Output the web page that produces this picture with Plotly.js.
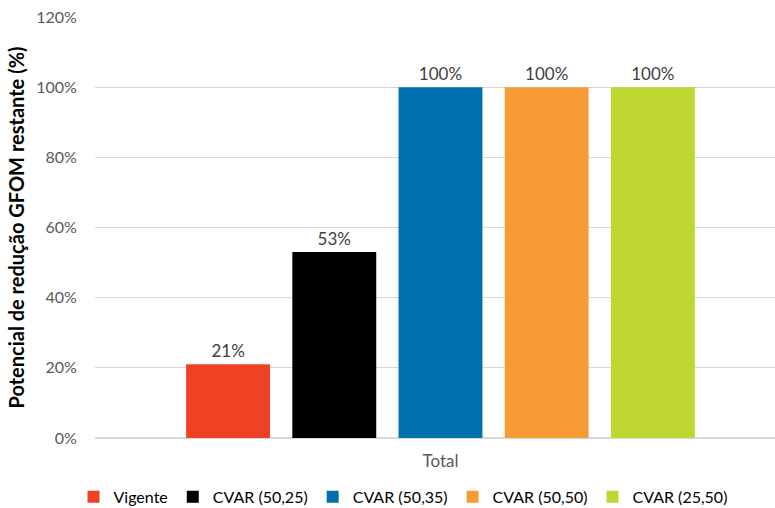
<!DOCTYPE html>
<html>
<head>
<meta charset="utf-8">
<script src="https://cdn.plot.ly/plotly-3.0.1.min.js"></script>
<style>html,body{margin:0;padding:0;background:#fff;}#chart{width:775px;height:508px;}</style>
</head>
<body>
<div id="chart"></div>
<script>
const categories = ["Total"];
const seriesNames = ["Vigente", "CVAR (50,25)", "CVAR (50,35)", "CVAR (50,50)", "CVAR (25,50)"];
const seriesValues = [[0.21], [0.53], [1.00], [1.00], [1.00]];
const seriesColors = ["#EF4123", "#000000", "#0070AF", "#F79B34", "#BFD730"];
const yTickVals = [0, 0.2, 0.4, 0.6, 0.8, 1.0, 1.2];

const font = "Lato, 'Open Sans', sans-serif";
const traces = seriesNames.map((n, i) => ({
  type: "bar",
  name: n,
  x: categories,
  y: seriesValues[i],
  marker: {color: seriesColors[i], line: {width: 12, color: "rgba(0,0,0,0)"}},
  texttemplate: "%{y:.0%}",
  textposition: "outside",
  textfont: {family: font, size: 17, color: "#404040"},
  cliponaxis: false,
  hoverinfo: "skip"
}));

const layout = {
  width: 775, height: 508,
  margin: {l: 95, r: 0, t: 17, b: 70},
  paper_bgcolor: "#fff", plot_bgcolor: "#fff",
  font: {family: font},
  barmode: "group",
  bargap: 0.2,
  bargroupgap: 0.21,
  showlegend: true,
  legend: {
    orientation: "h", xref: "container", yref: "container",
    x: 0.52, xanchor: "center", y: 0.022, yanchor: "middle",
    font: {family: font, size: 16, color: "#000"},
    itemwidth: 30, tracegroupgap: 0, traceorder: "normal"
  },
  xaxis: {
    type: "category",
    range: [-0.5205, 0.504],
    showgrid: false, zeroline: false, showline: false,
    tickfont: {family: font, size: 17, color: "#595959"},
    ticks: "outside", ticklen: 8, tickcolor: "rgba(0,0,0,0)"
  },
  yaxis: {
    range: [0, 1.2],
    tickvals: yTickVals,
    tickformat: ".0%",
    showgrid: true, gridcolor: "#D9D9D9", gridwidth: 1.3,
    zeroline: true, zerolinecolor: "#D9D9D9", zerolinewidth: 1.3,
    showline: false,
    tickfont: {family: font, size: 16, color: "#595959"},
    ticks: "outside", ticklen: 14, tickcolor: "rgba(0,0,0,0)",
    title: {text: "Potencial de redução GFOM restante (%)", font: {family: font, size: 20, color: "#000", weight: "bold"}, standoff: 6}
  }
};

Plotly.newPlot("chart", traces, layout, {displayModeBar: false, staticPlot: true});
</script>
</body>
</html>
